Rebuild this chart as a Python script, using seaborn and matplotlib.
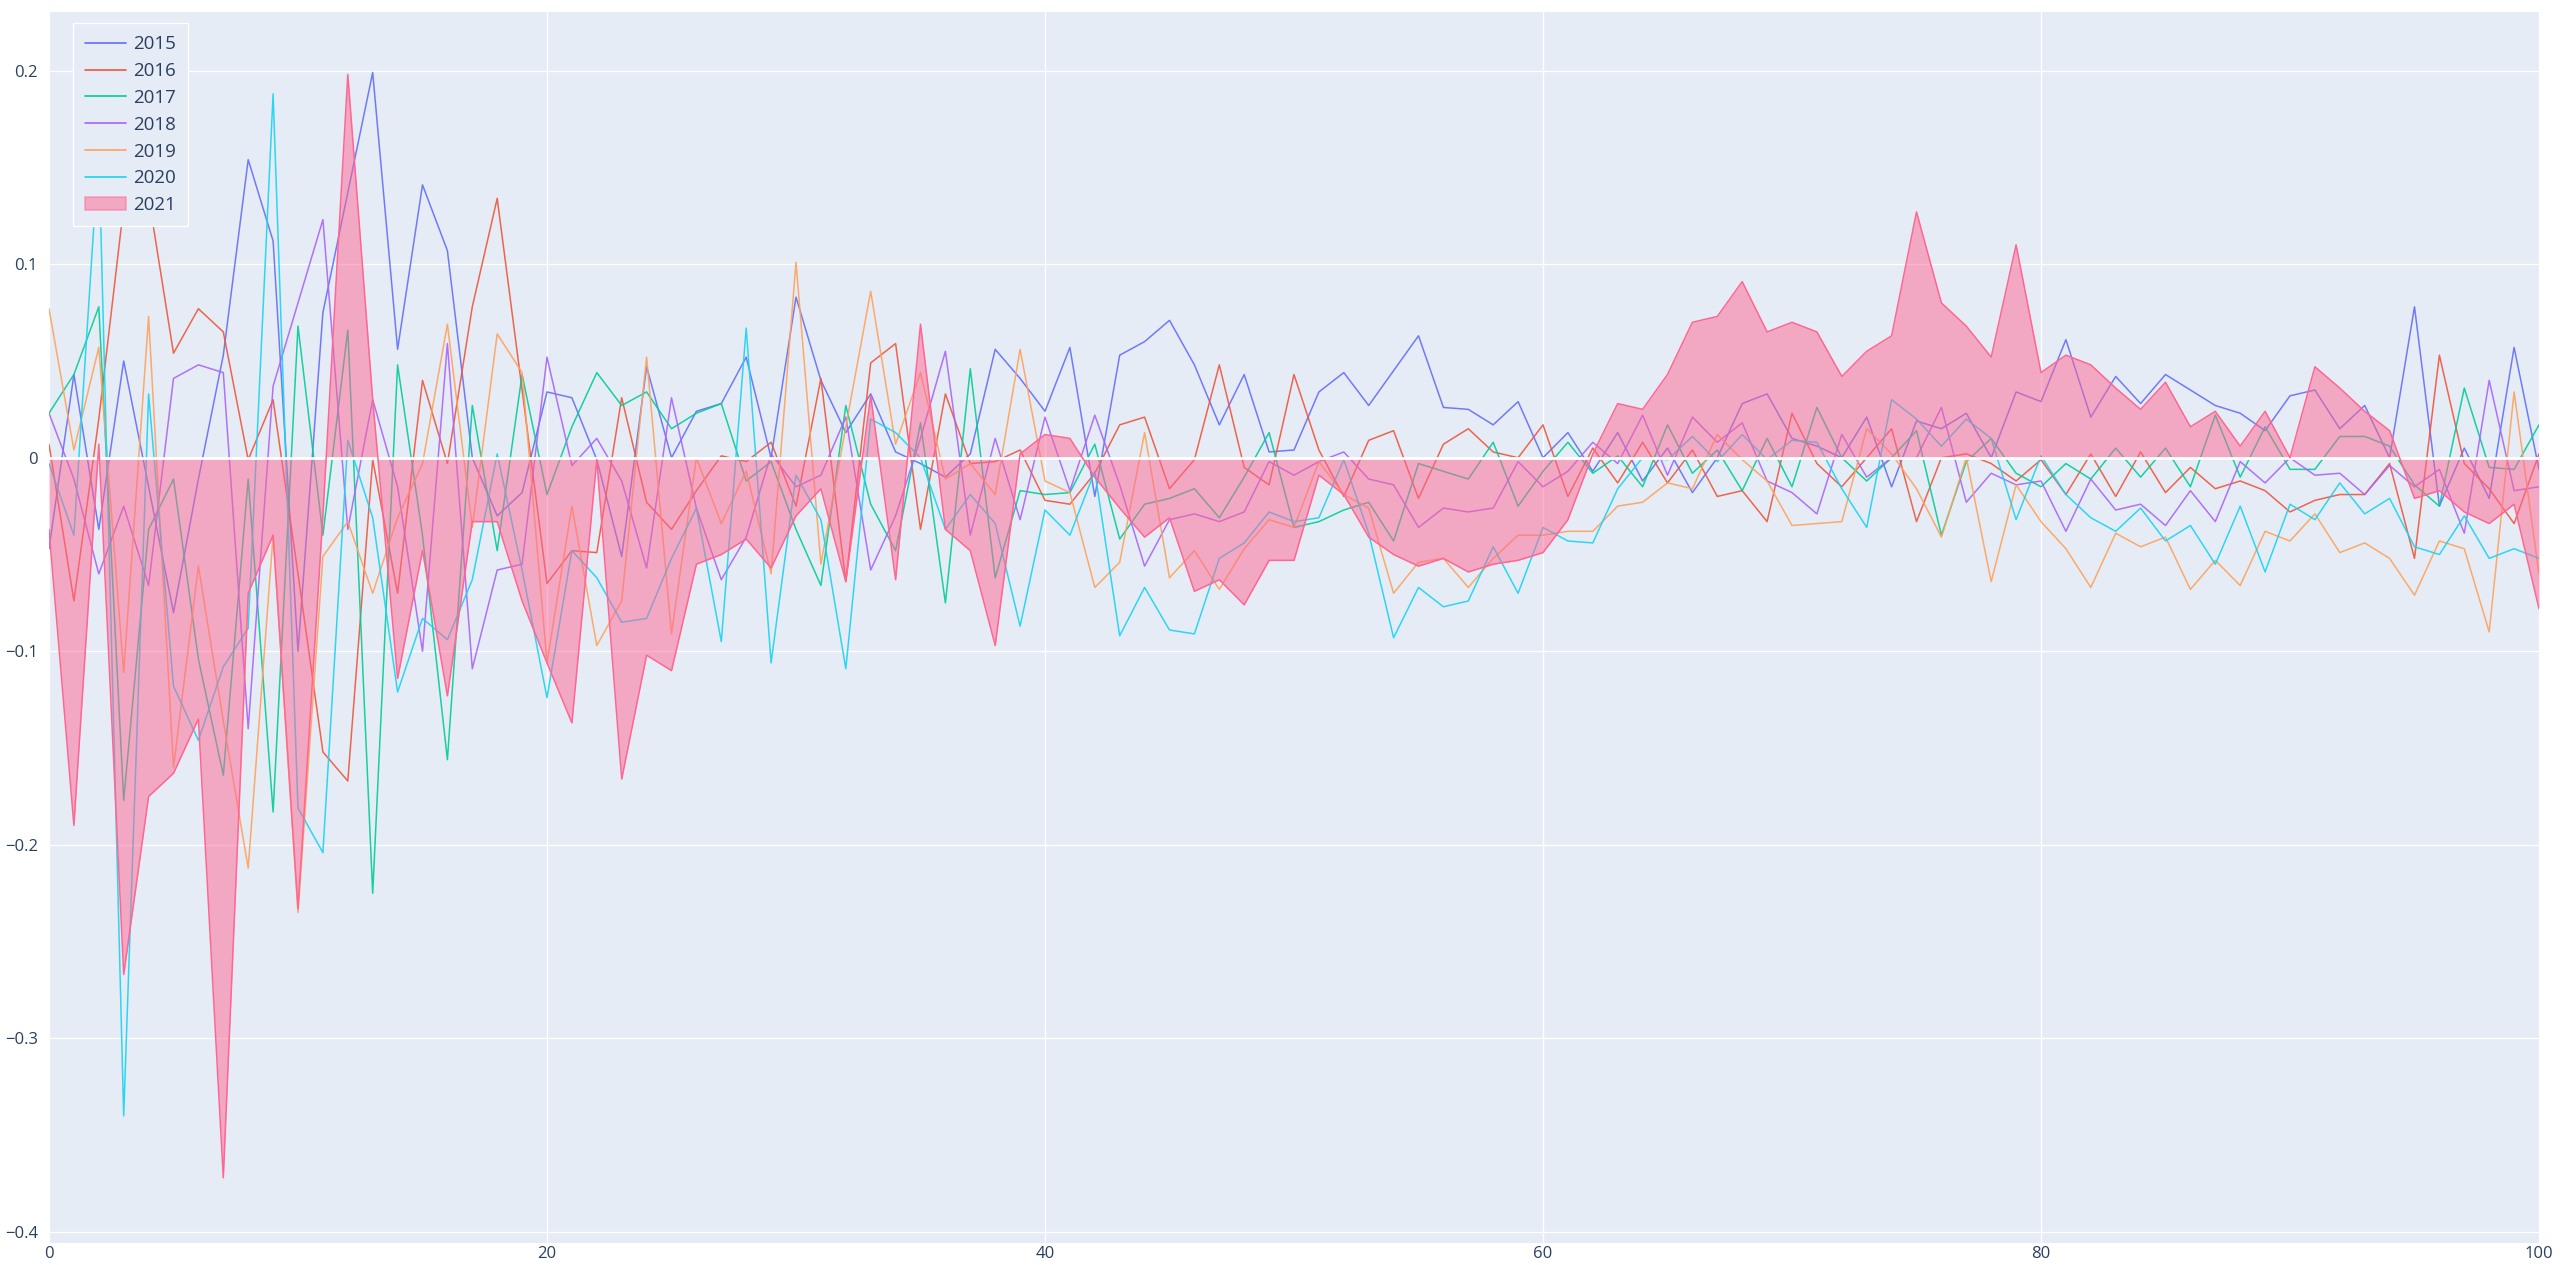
import matplotlib
matplotlib.use("Agg")
import matplotlib.pyplot as plt
import pandas as pd
import seaborn as sns
from matplotlib.lines import Line2D
from matplotlib.patches import Patch
from matplotlib.ticker import FuncFormatter

############# data
days = list(range(101))

y2015 = [-0.047, 0.043, -0.037, 0.05, -0.015, -0.08, -0.011, 0.053, 0.154, 0.112,
         -0.1, 0.075, 0.137, 0.199, 0.056, 0.141, 0.107, 0.0, -0.03, -0.018,
         0.034, 0.031, -0.001, -0.051, 0.047, 0.0, 0.024, 0.028, 0.052, 0.0,
         0.083, 0.04, 0.013, 0.033, 0.003, -0.003, -0.01, 0.002, 0.056, 0.041,
         0.024, 0.057, -0.02, 0.053, 0.06, 0.071, 0.048, 0.017, 0.043, 0.003,
         0.004, 0.034, 0.044, 0.027, 0.045, 0.063, 0.026, 0.025, 0.017, 0.029,
         0.0, 0.013, -0.007, 0.013, -0.012, 0.005, -0.018, 0.0, 0.028, 0.033,
         0.01, 0.006, 0.0, 0.021, -0.015, 0.019, 0.015, 0.023, 0.0, 0.034,
         0.029, 0.061, 0.021, 0.042, 0.028, 0.043, 0.035, 0.027, 0.023, 0.014,
         0.032, 0.035, 0.015, 0.027, 0.0, 0.078, -0.025, 0.005, -0.021, 0.057,
         -0.006]

y2016 = [0.007, -0.074, 0.02, 0.13, 0.135, 0.054, 0.077, 0.065, -0.001, 0.03,
         -0.06, -0.152, -0.167, -0.001, -0.07, 0.04, -0.003, 0.078, 0.134, 0.035,
         -0.065, -0.048, -0.049, 0.031, -0.023, -0.037, -0.017, 0.001, -0.002, 0.008,
         -0.025, 0.041, -0.064, 0.049, 0.059, -0.037, 0.033, -0.003, -0.002, 0.004,
         -0.022, -0.024, -0.008, 0.017, 0.021, -0.016, -0.001, 0.048, -0.005, -0.014,
         0.043, 0.004, -0.02, 0.009, 0.014, -0.021, 0.007, 0.015, 0.003, 0.0,
         0.017, -0.02, 0.005, -0.013, 0.008, -0.013, 0.004, -0.02, -0.017, -0.033,
         0.023, -0.003, -0.015, 0.0, 0.015, -0.033, 0.0, 0.002, -0.003, -0.012,
         -0.001, -0.019, 0.002, -0.02, 0.003, -0.018, -0.005, -0.016, -0.012, -0.017,
         -0.028, -0.022, -0.019, -0.019, -0.003, -0.052, 0.053, -0.003, -0.016, -0.034,
         0.002]

y2017 = [0.023, 0.043, 0.078, -0.177, -0.037, -0.011, -0.104, -0.164, -0.011, -0.183,
         0.068, -0.04, 0.066, -0.225, 0.048, -0.04, -0.156, 0.027, -0.048, 0.043,
         -0.019, 0.016, 0.044, 0.027, 0.034, 0.015, 0.023, 0.028, -0.012, -0.002,
         -0.037, -0.066, 0.027, -0.024, -0.048, 0.018, -0.075, 0.046, -0.062, -0.017,
         -0.019, -0.018, 0.007, -0.042, -0.024, -0.021, -0.016, -0.031, -0.01, 0.013,
         -0.036, -0.033, -0.027, -0.023, -0.043, -0.003, -0.007, -0.011, 0.008, -0.025,
         -0.007, 0.008, -0.008, 0.001, -0.015, 0.017, -0.008, 0.004, -0.017, 0.01,
         -0.015, 0.026, 0.0, -0.012, 0.0, 0.014, -0.04, -0.002, 0.01, -0.008,
         -0.015, -0.003, -0.011, 0.005, -0.01, 0.005, -0.015, 0.022, -0.01, 0.016,
         -0.006, -0.006, 0.011, 0.011, 0.006, -0.014, -0.025, 0.036, -0.005, -0.006,
         0.017]

y2018 = [0.023, -0.011, -0.06, -0.025, -0.066, 0.041, 0.048, 0.044, -0.14, 0.037,
         0.08, 0.123, -0.037, 0.03, -0.015, -0.1, 0.059, -0.109, -0.058, -0.055,
         0.052, -0.004, 0.01, -0.012, -0.057, 0.031, -0.026, -0.063, -0.041, 0.002,
         -0.015, -0.009, 0.021, -0.058, -0.03, 0.01, 0.055, -0.04, 0.01, -0.032,
         0.021, -0.017, 0.022, -0.014, -0.056, -0.032, -0.029, -0.033, -0.028, -0.002,
         -0.009, -0.002, 0.003, -0.011, -0.014, -0.036, -0.026, -0.028, -0.026, -0.002,
         -0.015, -0.007, 0.008, -0.003, 0.022, -0.009, 0.021, 0.008, 0.018, -0.012,
         -0.018, -0.029, 0.012, -0.01, 0.0, 0.0, 0.026, -0.023, -0.008, -0.014,
         -0.012, -0.038, -0.011, -0.027, -0.024, -0.035, -0.017, -0.033, -0.002, -0.013,
         0.0, -0.009, -0.008, -0.019, -0.004, -0.015, -0.006, -0.039, 0.04, -0.017,
         -0.015]

y2019 = [0.077, 0.004, 0.057, -0.111, 0.073, -0.16, -0.056, -0.136, -0.212, -0.04,
         -0.235, -0.051, -0.033, -0.07, -0.031, -0.003, 0.069, -0.036, 0.064, 0.044,
         -0.106, -0.025, -0.097, -0.074, 0.052, -0.091, 0.0, -0.034, -0.007, -0.06,
         0.101, -0.055, 0.016, 0.086, 0.007, 0.044, -0.011, -0.003, -0.019, 0.056,
         -0.012, -0.018, -0.067, -0.054, 0.013, -0.062, -0.048, -0.068, -0.047, -0.032,
         -0.036, -0.002, -0.019, -0.026, -0.07, -0.054, -0.052, -0.067, -0.052, -0.04,
         -0.04, -0.038, -0.038, -0.025, -0.023, -0.013, -0.016, 0.012, -0.001, -0.012,
         -0.035, -0.034, -0.033, 0.015, 0.002, -0.016, -0.041, 0.0, -0.064, -0.014,
         -0.033, -0.047, -0.067, -0.039, -0.046, -0.041, -0.068, -0.053, -0.066, -0.038,
         -0.043, -0.029, -0.049, -0.044, -0.052, -0.071, -0.043, -0.047, -0.09, 0.034,
         -0.06]

y2020 = [-0.003, -0.04, 0.16, -0.34, 0.033, -0.118, -0.146, -0.108, -0.088, 0.188,
         -0.181, -0.204, 0.009, -0.031, -0.121, -0.083, -0.094, -0.063, 0.002, -0.058,
         -0.124, -0.048, -0.062, -0.085, -0.083, -0.052, -0.026, -0.095, 0.067, -0.106,
         -0.009, -0.032, -0.109, 0.02, 0.013, 0.0, -0.037, -0.019, -0.034, -0.087,
         -0.027, -0.04, -0.007, -0.092, -0.067, -0.089, -0.091, -0.052, -0.044, -0.028,
         -0.033, -0.031, -0.001, -0.039, -0.093, -0.067, -0.077, -0.074, -0.046, -0.07,
         -0.036, -0.043, -0.044, -0.016, 0.0, -0.001, 0.011, -0.002, 0.012, -0.001,
         0.009, 0.008, -0.016, -0.036, 0.03, 0.02, 0.006, 0.02, 0.01, -0.032,
         0.001, -0.019, -0.031, -0.038, -0.026, -0.043, -0.035, -0.055, -0.025, -0.059,
         -0.024, -0.032, -0.013, -0.029, -0.021, -0.046, -0.05, -0.03, -0.052, -0.047,
         -0.052]

y2021 = [-0.037, -0.19, 0.007, -0.267, -0.175, -0.163, -0.135, -0.372, -0.07, -0.04,
         -0.233, -0.03, 0.198, 0.03, -0.114, -0.048, -0.123, -0.033, -0.033, -0.074,
         -0.106, -0.137, -0.001, -0.166, -0.102, -0.11, -0.055, -0.05, -0.042, -0.057,
         -0.03, -0.016, -0.064, 0.032, -0.063, 0.069, -0.037, -0.048, -0.097, 0.002,
         0.012, 0.01, -0.01, -0.026, -0.041, -0.031, -0.069, -0.063, -0.076, -0.053,
         -0.053, -0.009, -0.019, -0.041, -0.05, -0.056, -0.052, -0.059, -0.055, -0.053,
         -0.049, -0.032, 0.002, 0.028, 0.025, 0.043, 0.07, 0.073, 0.091, 0.065,
         0.07, 0.065, 0.042, 0.055, 0.063, 0.127, 0.08, 0.068, 0.052, 0.11,
         0.044, 0.053, 0.048, 0.036, 0.025, 0.039, 0.016, 0.024, 0.006, 0.024,
         0.0, 0.047, 0.036, 0.024, 0.014, -0.021, -0.017, -0.028, -0.034, -0.024,
         -0.078]

years = ["2015", "2016", "2017", "2018", "2019", "2020", "2021"]
colors = ["#636EFA", "#EF553B", "#00CC96", "#AB63FA", "#FFA15A", "#19D3F3", "#FF6692"]
xticks = [0, 20, 40, 60, 80, 100]
yticks = [-0.4, -0.3, -0.2, -0.1, 0, 0.1, 0.2]

############# long dataframe
values = [y2015, y2016, y2017, y2018, y2019, y2020, y2021]
df = pd.concat(
    [pd.DataFrame({"x": days, "value": v, "year": yr}) for yr, v in zip(years, values)],
    ignore_index=True,
)
palette = dict(zip(years, colors))

############# style
sns.set_style("darkgrid", {"axes.facecolor": "#E5ECF6", "grid.color": "white"})
plt.rcParams["font.family"] = ["Open Sans", "DejaVu Sans"]

fig = plt.figure(figsize=(25.6, 12.65), dpi=100)
ax = fig.add_axes([49 / 2560, 22 / 1265, 2490 / 2560, 1231 / 1265])

lines_df = df[df["year"] != "2021"]
sns.lineplot(data=lines_df, x="x", y="value", hue="year", palette=palette,
             estimator=None, linewidth=1.1, alpha=0.9, legend=False, ax=ax, zorder=3)

pink = palette["2021"]
ax.fill_between(days, y2021, 0, color=pink, alpha=0.5, linewidth=0, zorder=4)
sns.lineplot(x=days, y=y2021, color=pink, linewidth=1.1, ax=ax, zorder=5)
ax.axhline(0, color="white", linewidth=2.0, zorder=4.5)

ax.set_xlim(0, 100)
ax.set_ylim(-0.4057, 0.2303)
ax.set_xticks(xticks)
ax.set_yticks(yticks)
ax.yaxis.set_major_formatter(FuncFormatter(lambda v, p: "0" if abs(v) < 1e-9 else f"{v:g}".replace("-", "\u2212")))
ax.grid(True, color="white", linewidth=1.0)
ax.set_xlabel("")
ax.set_ylabel("")
for s in ax.spines.values():
    s.set_visible(False)
ax.tick_params(axis="both", length=0, labelsize=12, labelcolor="#2a3f5f")
ax.tick_params(axis="y", pad=8)
ax.tick_params(axis="x", pad=2)

############# legend
handles = [Line2D([0], [0], color=c, linewidth=1.2) for c in colors[:-1]]
handles.append(Patch(facecolor=pink, alpha=0.5, edgecolor=pink, linewidth=1.2))
leg = ax.legend(handles, years, loc="upper left", bbox_to_anchor=(0.0096, 0.991),
                fontsize=13.5, frameon=True, fancybox=False, framealpha=1.0,
                edgecolor="white", handlelength=2.2, labelspacing=0.47,
                borderpad=0.65, handletextpad=0.35, borderaxespad=0)
for t in leg.get_texts():
    t.set_color("#2a3f5f")
leg.set_zorder(10)

fig.savefig("out.png", dpi=100)
